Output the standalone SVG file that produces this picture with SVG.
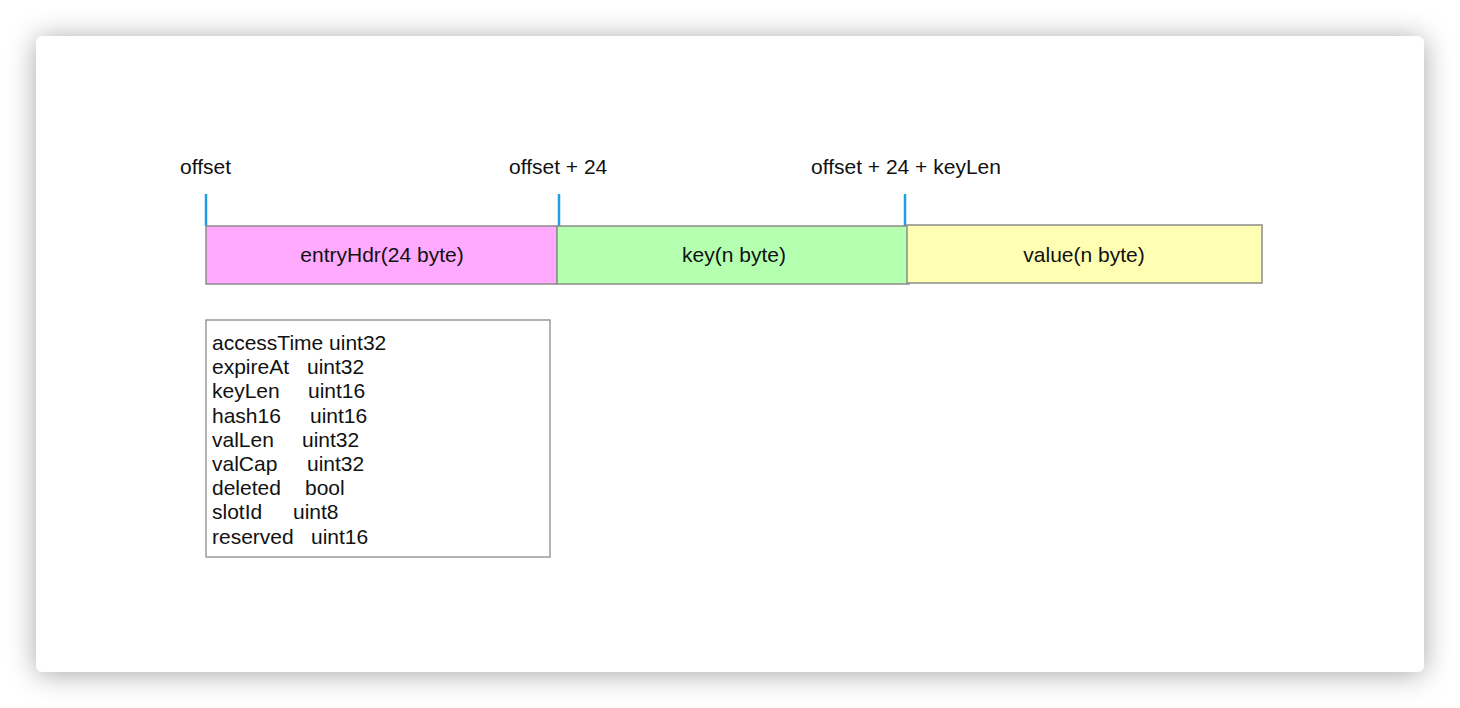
<svg xmlns="http://www.w3.org/2000/svg" width="1460" height="708" viewBox="0 0 1460 708">
<defs>
<filter id="shadow" x="-10%" y="-10%" width="120%" height="120%">
<feDropShadow dx="0" dy="2" stdDeviation="14" flood-color="#000" flood-opacity="0.35"/>
</filter>
<style>
text{font-family:"Liberation Sans",Arial,Helvetica,sans-serif;font-size:21px;fill:#111}
.seg{stroke:#8c8c8c;stroke-width:1.5}
.tick{stroke:#1e9ce6;stroke-width:2.5}
.c{text-anchor:middle}
</style>
</defs>
<rect width="1460" height="708" fill="#ffffff"/>
<rect x="36" y="36" width="1388" height="636" rx="7" fill="#ffffff" filter="url(#shadow)"/>
<g id="connectors">
<line class="tick" x1="206" y1="194" x2="206" y2="226"/>
<line class="tick" x1="559" y1="194" x2="559" y2="226"/>
<line class="tick" x1="905" y1="194" x2="905" y2="226"/>
</g>
<g id="labels">
<text x="180" y="174">offset</text>
<text x="509" y="174">offset + 24</text>
<text x="811" y="174">offset + 24 + keyLen</text>
</g>
<g id="entryHdr">
<rect class="seg" x="206" y="226" width="351" height="58" fill="#ffaaff"/>
<text class="c" x="382" y="262">entryHdr(24 byte)</text>
</g>
<g id="key">
<rect class="seg" x="557" y="226" width="352" height="58" fill="#b5ffb0"/>
<text class="c" x="734" y="262">key(n byte)</text>
</g>
<g id="value">
<rect class="seg" x="907" y="225" width="355" height="58" fill="#ffffb3"/>
<text class="c" x="1084" y="262">value(n byte)</text>
</g>
<g id="fields">
<rect x="206" y="320" width="344" height="237" fill="#ffffff" stroke="#8c8c8c" stroke-width="1.3"/>
<text x="212" y="350">accessTime uint32</text>
<text x="212" y="374.2">expireAt<tspan x="307">uint32</tspan></text>
<text x="212" y="398.4">keyLen<tspan x="308">uint16</tspan></text>
<text x="212" y="422.6">hash16<tspan x="310">uint16</tspan></text>
<text x="212" y="446.8">valLen<tspan x="302">uint32</tspan></text>
<text x="212" y="471">valCap<tspan x="307">uint32</tspan></text>
<text x="212" y="495.2">deleted<tspan x="305">bool</tspan></text>
<text x="212" y="519.4">slotId<tspan x="293">uint8</tspan></text>
<text x="212" y="543.6">reserved<tspan x="311">uint16</tspan></text>
</g>
</svg>
